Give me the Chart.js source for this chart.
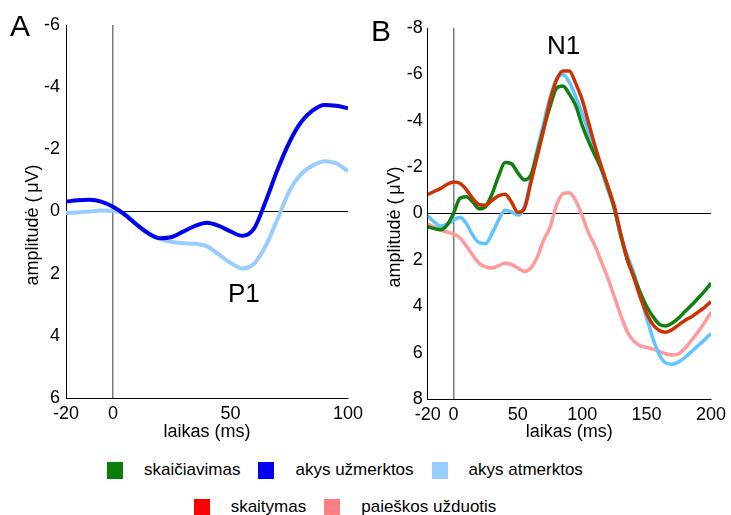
<!DOCTYPE html>
<html>
<head>
<meta charset="utf-8">
<script src="https://cdn.jsdelivr.net/npm/chart.js@4.4.1/dist/chart.umd.min.js"></script>
<style>
    html, body { margin: 0; padding: 0; background: #fff; }
    body { width: 731px; height: 515px; position: relative; overflow: hidden; font-family: 'Liberation Sans', Arial, sans-serif; color: #000; }
    #chartA { position: absolute; left: 0; top: 0; }
    #chartB { position: absolute; left: 370px; top: 0; }
    .panel-letter { position: absolute; font-size: 30px; line-height: 30px; }
    #legend { position: absolute; left: 95px; top: 458px; width: 500px; display: flex; flex-wrap: wrap; justify-content: center; column-gap: 18px; row-gap: 13px; font-size: 17px; }
    .legend-item { display: flex; align-items: center; height: 24px; white-space: nowrap; }
    .legend-swatch { width: 16px; height: 17px; margin-right: 21px; }
</style>
</head>
<body>

<canvas id="chartA" width="368" height="448"></canvas>
<canvas id="chartB" width="361" height="449"></canvas>
<div class="panel-letter" style="left: 10px; top: 11px;">A</div>
<div class="panel-letter" style="left: 371px; top: 16px;">B</div>
<div id="legend"></div>

<script>

// panel A: eyes closed / open
const timesA = [ -20, -15, -10, -5, 0, 5, 10, 15, 20, 25, 30, 35, 40, 45, 50, 55, 60, 65, 70, 75, 80, 85, 90, 95, 100 ];
const eyesClosedA = [ -0.32, -0.36, -0.38, -0.32, -0.15, 0.1, 0.42, 0.7, 0.86, 0.82, 0.64, 0.46, 0.36, 0.46, 0.64, 0.78, 0.55, -0.33, -1.34, -2.22, -2.87, -3.25, -3.43, -3.4, -3.32 ];
const eyesOpenA = [ 0.05, 0.03, 0.0, -0.03, -0.02, 0.08, 0.4, 0.7, 0.88, 0.98, 1.02, 1.04, 1.12, 1.38, 1.65, 1.83, 1.68, 1.1, 0.25, -0.65, -1.2, -1.48, -1.62, -1.55, -1.3 ];

// panel B: tasks
const timesB = [ -20, -15, -10, -5, 0, 5, 10, 15, 20, 25, 30, 35, 40, 45, 50, 55, 60, 65, 70, 75, 80, 85, 90, 95, 100,
    105, 110, 115, 120, 125, 130, 135, 140, 145, 150, 155, 160, 165, 170, 175, 180, 185, 190, 195, 200 ];
const countingB = [ 0.57, 0.65, 0.7, 0.5, 0.0, -0.65, -0.72, -0.5, -0.2, -0.3, -0.85, -1.6, -2.2, -2.15, -1.75, -1.45, -1.65, -2.6, -3.65, -4.6,
    -5.4, -5.5, -5.15, -4.65, -3.8, -3.1, -2.5, -1.9, -1.15, -0.2, 0.95, 2.0, 2.7, 3.4, 4.0, 4.45, 4.78, 4.85, 4.72, 4.5, 4.22, 3.95, 3.65, 3.35, 3.0 ];
const readingB = [ -0.82, -0.95, -1.08, -1.25, -1.36, -1.3, -1.03, -0.65, -0.38, -0.36, -0.57, -0.76, -0.83, -0.5, -0.05, -0.2, -1.3, -2.44, -3.6, -4.85,
    -5.75, -6.15, -6.15, -5.6, -4.9, -3.9, -2.9, -2.0, -1.15, -0.3, 0.9, 1.95, 2.75, 3.6, 4.3, 4.8, 5.05, 5.12, 5.0, 4.8, 4.6, 4.45, 4.25, 4.05, 3.8 ];
const eyesOpenB = [ 0.11, 0.36, 0.55, 0.46, 0.29, 0.16, 0.43, 0.93, 1.26, 1.3, 0.86, 0.29, -0.14, -0.07, 0.07, -0.29, -1.44, -2.73, -3.88, -5.0,
    -5.8, -6.0, -5.67, -5.03, -4.31, -3.52, -2.73, -1.87, -1.0, -0.22, 1.0, 1.8, 2.55, 3.5, 4.5, 5.4, 6.1, 6.45, 6.5, 6.4, 6.2, 5.95, 5.7, 5.45, 5.17 ];
const searchB = [ 0.45, 0.6, 0.72, 0.8, 0.88, 1.05, 1.4, 1.8, 2.15, 2.3, 2.35, 2.25, 2.15, 2.2, 2.35, 2.5, 2.35, 1.9, 1.15, 0.6,
    -0.35, -0.85, -0.9, -0.55, 0.1, 0.85, 1.4, 2.1, 2.8, 3.6, 4.4, 5.1, 5.5, 5.7, 5.78, 5.85, 5.95, 6.05, 6.1, 6.05, 5.8, 5.46, 5.1, 4.7, 4.25 ];

// ticks
const xTicksA = [ -20, 0, 50, 100 ];
const yTicksA = [ -6, -4, -2, 0, 2, 4, 6 ];
const xTicksB = [ -20, 0, 50, 100, 150, 200 ];
const yTicksB = [ -8, -6, -4, -2, 0, 2, 4, 6, 8 ];

// legend
const legendLabels = [ 'skaičiavimas', 'akys užmerktos', 'akys atmerktos', 'skaitymas', 'paieškos užduotis' ];
const legendColors = [ '#0a7d0a', '#0000f5', '#99ccff', '#ff0000', '#ff8080' ];

const peakLabel = {
    id: 'peakLabel',
    afterDatasetsDraw ( chart, args, opts ) {
        if ( !opts.text ) return;
        const { ctx, scales: { x, y } } = chart;
        ctx.save();
        ctx.font = '26px "Liberation Sans", Arial, sans-serif';
        ctx.fillStyle = '#000';
        ctx.textAlign = 'center';
        ctx.textBaseline = 'middle';
        ctx.fillText( opts.text, x.getPixelForValue( opts.x ), y.getPixelForValue( opts.y ) );
        ctx.restore();
    }
};

function toPoints ( xs, ys ) {
    return xs.map( ( x, i ) => ( { x, y: ys[ i ] } ) );
}

function line ( xs, ys, color, width ) {
    return {
        data: toPoints( xs, ys ),
        borderColor: color,
        borderWidth: width,
        pointRadius: 0,
        cubicInterpolationMode: 'monotone',
        fill: false
    };
}

function renderErpPanel ( ctx, cfg ) {

    new Chart( ctx, {
        type: 'line',
        data: { datasets: cfg.datasets },
        plugins: [ peakLabel ],
        options: {
            layout: { padding: cfg.padding },
            plugins: {
                peakLabel: cfg.peak
            },
            scales: {
                x: {
                    type: 'linear',
                    min: cfg.xTicks[ 0 ],
                    max: cfg.xTicks[ cfg.xTicks.length - 1 ],
                    afterBuildTicks: s => { s.ticks = cfg.xTicks.map( value => ( { value } ) ); },
                    afterFit: s => { s.height = 50; },
                    grid: {
                        drawTicks: false,
                        lineWidth: 1.5,
                        color: c => c.tick && c.tick.value === 0 ? '#7a7a7a' : 'rgba(0,0,0,0)'
                    },
                    border: { color: '#000', width: 1 },
                    ticks: { padding: 5, maxRotation: 0, autoSkip: false, font: { size: 18 } },
                    title: { display: true, text: 'laikas (ms)', font: { size: 18 }, padding: { top: 0, bottom: cfg.xTitlePad } }
                },
                y: {
                    reverse: true,
                    min: cfg.yTicks[ 0 ],
                    max: cfg.yTicks[ cfg.yTicks.length - 1 ],
                    afterBuildTicks: s => { s.ticks = cfg.yTicks.map( value => ( { value } ) ); },
                    afterFit: s => { s.width = cfg.yWidth; },
                    grid: {
                        drawTicks: false,
                        lineWidth: 1,
                        color: c => c.tick && c.tick.value === 0 ? '#000' : 'rgba(0,0,0,0)'
                    },
                    border: { color: '#000', width: 1 },
                    ticks: { padding: cfg.yTickPad, font: { size: 18 } },
                    title: { display: true, text: 'amplitudė (\u2009μV)\u2003\u2002', font: { size: 18 }, padding: { top: cfg.yTitlePad, bottom: 0 } }
                }
            }
        }
    } );

}

document.addEventListener( 'DOMContentLoaded', function () {

    Chart.defaults.responsive = false;
    Chart.defaults.animation = false;
    Chart.defaults.font.family = '"Liberation Sans", Arial, sans-serif';
    Chart.defaults.font.size = 18;
    Chart.defaults.color = '#000';
    Chart.defaults.plugins.legend.display = false;
    Chart.defaults.plugins.tooltip.enabled = false;

    renderErpPanel( document.getElementById( 'chartA' ), {
        datasets: [
            line( timesA, eyesClosedA, '#0000f0', 4 ),
            line( timesA, eyesOpenA, '#99ccff', 4 )
        ],
        xTicks: xTicksA,
        yTicks: yTicksA,
        padding: { left: 0, top: 25, right: 20, bottom: 0 },
        yWidth: 66,
        yTickPad: 6,
        yTitlePad: 22.7,
        xTitlePad: 5.4,
        peak: { text: 'P1', x: 55.7, y: 2.68 }
    } );

    renderErpPanel( document.getElementById( 'chartB' ), {
        datasets: [
            line( timesB, readingB, '#cc3300', 3.5 ),
            line( timesB, countingB, '#108010', 3.5 ),
            line( timesB, eyesOpenB, '#5fc4ff', 3.5 ),
            line( timesB, searchB, '#ff9a9a', 3.5 )
        ],
        xTicks: xTicksB,
        yTicks: yTicksB,
        padding: { left: 0, top: 28, right: 17.7, bottom: 0 },
        yWidth: 57.7,
        yTickPad: 5,
        yTitlePad: 14.7,
        xTitlePad: 6.4,
        peak: { text: 'N1', x: 85.6, y: -7.19 }
    } );

    const legend = document.getElementById( 'legend' );
    legendLabels.forEach( ( label, i ) => {
        const item = document.createElement( 'div' );
        item.className = 'legend-item';
        const swatch = document.createElement( 'span' );
        swatch.className = 'legend-swatch';
        swatch.style.background = legendColors[ i ];
        const text = document.createElement( 'span' );
        text.textContent = label;
        item.append( swatch, text );
        legend.append( item );
    } );

} );

</script>
</body>
</html>
